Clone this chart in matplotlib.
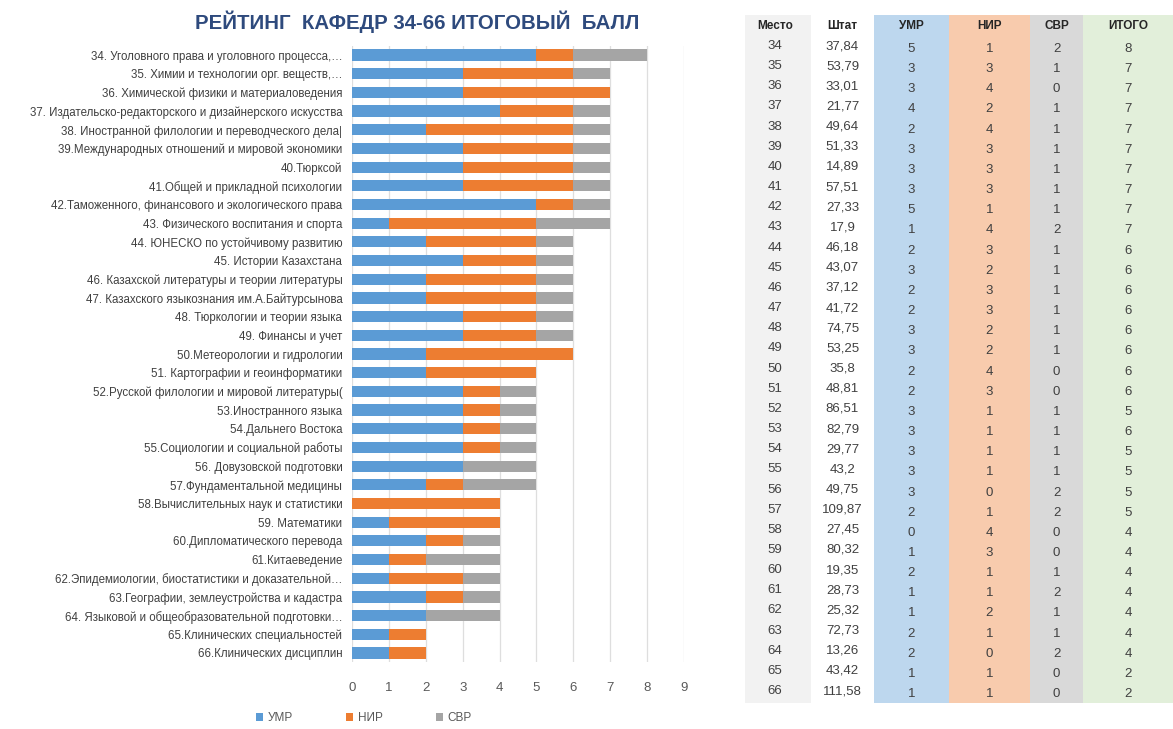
import matplotlib
matplotlib.use("Agg")
import matplotlib.pyplot as plt
from matplotlib.patches import Rectangle

# ---------------- data ----------------
places = list(range(34, 67))
departments = [
    "34. Уголовного права и уголовного процесса,…",
    "35. Химии и технологии орг. веществ,…",
    "36. Химической физики и материаловедения",
    "37. Издательско-редакторского и дизайнерского искусства",
    "38. Иностранной филологии и переводческого дела|",
    "39.Международных отношений и мировой экономики",
    "40.Тюрксой",
    "41.Общей и прикладной психологии",
    "42.Таможенного, финансового и экологического права",
    "43. Физического воспитания и спорта",
    "44. ЮНЕСКО по устойчивому развитию",
    "45. Истории Казахстана",
    "46. Казахской литературы и теории литературы",
    "47. Казахского языкознания им.А.Байтурсынова",
    "48. Тюркологии и теории языка",
    "49. Финансы и учет",
    "50.Метеорологии и гидрологии",
    "51. Картографии и геоинформатики",
    "52.Русской филологии и мировой литературы(",
    "53.Иностранного языка",
    "54.Дальнего Востока",
    "55.Социологии и социальной работы",
    "56. Довузовской подготовки",
    "57.Фундаментальной медицины",
    "58.Вычислительных наук и статистики",
    "59. Математики",
    "60.Дипломатического перевода",
    "61.Китаеведение",
    "62.Эпидемиологии, биостатистики и доказательной…",
    "63.Географии, землеустройства и кадастра",
    "64. Языковой и общеобразовательной подготовки…",
    "65.Клинических специальностей",
    "66.Клинических дисциплин",
]
shtat = ["37,84", "53,79", "33,01", "21,77", "49,64", "51,33", "14,89", "57,51",
         "27,33", "17,9", "46,18", "43,07", "37,12", "41,72", "74,75", "53,25",
         "35,8", "48,81", "86,51", "82,79", "29,77", "43,2", "49,75", "109,87",
         "27,45", "80,32", "19,35", "28,73", "25,32", "72,73", "13,26", "43,42",
         "111,58"]
umr = [5, 3, 3, 4, 2, 3, 3, 3, 5, 1, 2, 3, 2, 2, 3, 3, 2, 2, 3, 3, 3, 3, 3, 2,
       0, 1, 2, 1, 1, 2, 2, 1, 1]
nir = [1, 3, 4, 2, 4, 3, 3, 3, 1, 4, 3, 2, 3, 3, 2, 2, 4, 3, 1, 1, 1, 1, 0, 1,
       4, 3, 1, 1, 2, 1, 0, 1, 1]
svr = [2, 1, 0, 1, 1, 1, 1, 1, 1, 2, 1, 1, 1, 1, 1, 1, 0, 0, 1, 1, 1, 1, 2, 2,
       0, 0, 1, 2, 1, 1, 2, 0, 0]
itogo = [8, 7, 7, 7, 7, 7, 7, 7, 7, 7, 6, 6, 6, 6, 6, 6, 6, 6, 5, 6, 5, 5, 5, 5,
         4, 4, 4, 4, 4, 4, 4, 2, 2]
series_names = ["УМР", "НИР", "СВР"]
table_headers = ["Место", "Штат", "УМР", "НИР", "СВР", "ИТОГО"]
x_ticks = list(range(0, 10))

# ---------------- styles ----------------
C_BLUE, C_ORANGE, C_GRAY = "#5B9BD5", "#ED7D31", "#A5A5A5"
FONT = "Liberation Sans"
W, H = 1173, 729
fig = plt.figure(figsize=(W / 100, H / 100), dpi=100)

# background axes for table (pixel coordinates)
bg = fig.add_axes([0, 0, 1, 1], zorder=0)
bg.set_xlim(0, W)
bg.set_ylim(H, 0)
bg.axis("off")

# ---------------- bar chart ----------------
ax_left, ax_right = 352, 684
ax_top, ax_bot = 45.7, 662.3
ax = fig.add_axes([ax_left / W, 1 - ax_bot / H, (ax_right - ax_left) / W,
                   (ax_bot - ax_top) / H], zorder=2)
ax.patch.set_alpha(0)
n = len(departments)
ypos = list(range(n))
left2 = [a + b for a, b in zip(umr, nir)]
ax.barh(ypos, umr, height=0.6, color=C_BLUE, label=series_names[0], zorder=3)
ax.barh(ypos, nir, left=umr, height=0.6, color=C_ORANGE, label=series_names[1], zorder=3)
ax.barh(ypos, svr, left=left2, height=0.6, color=C_GRAY, label=series_names[2], zorder=3)
ax.set_xlim(0, 9)
ax.set_ylim(n - 0.5, -0.5)
ax.set_xticks(x_ticks)
ax.set_xticklabels([str(t) for t in x_ticks], fontsize=9.5, color="#595959",
                   family=FONT)
ax.set_yticks(ypos)
ax.set_yticklabels(departments, fontsize=8.3, color="#404040", family=FONT)
ax.tick_params(axis="y", length=0, pad=7)
ax.tick_params(axis="x", length=0, pad=14)
ax.grid(axis="x", color="#DEDEDE", linewidth=0.9, zorder=0)
for s in ax.spines.values():
    s.set_visible(False)

fig.text(417 / W, 1 - 22 / H, "РЕЙТИНГ  КАФЕДР 34-66 ИТОГОВЫЙ  БАЛЛ",
         ha="center", va="center", fontsize=14.7, fontweight="bold",
         color="#2E4A7D", family=FONT)

leg = fig.legend(loc="center", bbox_to_anchor=(364 / W, 1 - 718 / H), ncol=3,
                 frameon=False, handlelength=0.6, handleheight=0.6,
                 columnspacing=4.5, handletextpad=0.4,
                 prop={"family": FONT, "size": 8.5})
for t in leg.get_texts():
    t.set_color("#595959")

# ---------------- table ----------------
col_edges = [745, 811, 874, 949, 1030, 1083, 1173]
col_bg = ["#F2F2F2", "#FFFFFF", "#BDD7EE", "#F8CBAD", "#D9D9D9", "#E2EFDA"]
tbl_top, tbl_bot = 15, 703
for i in range(6):
    bg.add_patch(Rectangle((col_edges[i], tbl_top), col_edges[i + 1] - col_edges[i],
                           tbl_bot - tbl_top, facecolor=col_bg[i], edgecolor="none"))
centers = [(col_edges[i] + col_edges[i + 1]) / 2 for i in range(6)]
centers[0] -= 3
for i, h in enumerate(table_headers):
    bg.text(centers[i], 26, h, ha="center", va="center", fontsize=8.5,
            fontweight="bold", color="#262626", family=FONT)
row0, dy = 46, 20.16
for r in range(n):
    y = row0 + r * dy
    vals = [str(places[r]), shtat[r], str(umr[r]), str(nir[r]), str(svr[r]), str(itogo[r])]
    for i, v in enumerate(vals):
        yy = y + 3 if i >= 2 else y
        bg.text(centers[i], yy, v, ha="center", va="center", fontsize=9.5,
                color="#404040", family=FONT)

fig.savefig("out.png", dpi=100)
